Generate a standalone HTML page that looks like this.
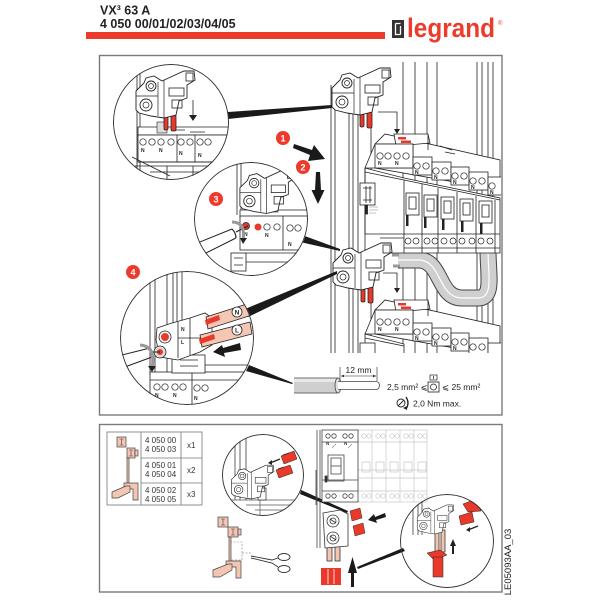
<!DOCTYPE html>
<html><head><meta charset="utf-8">
<style>
html,body{margin:0;padding:0;background:#fff;}
svg{display:block;}
text{font-family:"Liberation Sans",Arial,sans-serif;}
</style></head><body>
<svg width="600" height="600" viewBox="0 0 600 600" xmlns="http://www.w3.org/2000/svg">
<defs>
 <g id="conn">
  <polygon points="2,23 10,15 12,10 20,8 28,13 50,3 60,3 61,12 53,17 53,30 45,33 42,47 30,50 17,48 5,45 2,42" fill="#fff" stroke="#222" stroke-width="0.9"/>
  <circle cx="17" cy="18" r="5" fill="#fff" stroke="#222" stroke-width="0.9"/>
  <circle cx="17" cy="18" r="2.5" fill="none" stroke="#222" stroke-width="0.7"/>
  <circle cx="12" cy="37" r="6" fill="#fff" stroke="#222" stroke-width="0.9"/>
  <circle cx="12" cy="37" r="3" fill="none" stroke="#222" stroke-width="0.7"/>
  <rect x="35" y="20" width="15" height="8" fill="none" stroke="#222" stroke-width="0.8"/>
  <rect x="38" y="32" width="10" height="8" fill="none" stroke="#222" stroke-width="0.8"/>
  <rect x="52" y="5" width="7" height="8" fill="none" stroke="#222" stroke-width="0.8"/>
  <path d="M24,14 V48 M30,12 V50 M2,28 H24" stroke="#222" stroke-width="0.7" fill="none"/>
 </g>
 <g id="pins">
  <rect x="30" y="48" width="4" height="14" rx="1.5" fill="#e8392b"/>
  <rect x="37" y="47" width="5" height="16" rx="1.5" fill="#e8392b"/>
 </g>
 <clipPath id="cr"><rect x="320" y="56" width="181" height="297"/></clipPath>
 <clipPath id="c1"><circle cx="171" cy="122" r="58"/></clipPath>
 <clipPath id="c3"><circle cx="251" cy="219" r="57"/></clipPath>
 <clipPath id="c4"><circle cx="187" cy="338" r="67"/></clipPath>
 <clipPath id="c5"><circle cx="263" cy="475" r="41"/></clipPath>
 <clipPath id="c6"><circle cx="447" cy="541" r="47"/></clipPath>
</defs>

<!-- HEADER -->
<text x="100" y="14.5" font-size="12.5" font-weight="bold" fill="#222">VX³ 63 A</text>
<text x="100" y="28" font-size="12.5" font-weight="bold" fill="#222">4 050 00/01/02/03/04/05</text>
<rect x="86" y="32" width="299" height="7" fill="#ee3a2a"/>
<rect x="392" y="20" width="12" height="18" fill="#333"/>
<path d="M395.5,23.5 H400.5 M395.5,23.5 V34.5 H400.5 M400.5,26 V34.5" stroke="#fff" stroke-width="1.3" fill="none"/>
<text x="407" y="37" font-size="27" font-weight="bold" fill="#ee3a2a" textLength="88" lengthAdjust="spacingAndGlyphs">legrand</text>
<text x="498" y="25" font-size="6" fill="#ee3a2a">®</text>

<!-- FRAMES -->
<rect x="99.5" y="55.5" width="402.5" height="359.5" fill="none" stroke="#7a7a7a" stroke-width="1.4"/>
<rect x="99.5" y="424.5" width="402.5" height="167.5" fill="none" stroke="#7a7a7a" stroke-width="1.4"/>

<!-- MAIN RIGHT DRAWING -->
<g clip-path="url(#cr)" stroke="#222" stroke-width="0.8" fill="none">
 <!-- panel uprights -->
 <path d="M403,62 V353 M415,62 V353 M427,62 V353 M437,62 V353 M477,62 V353 M482,62 V353 M488,62 V353 M493,62 V353"/>
 <!-- rail -->
 <path d="M331,85 V353 M335,85 V353 M349,85 V353 M353,85 V353 M358,85 V353 M371,110 V353"/>
 <!-- cable -->
 <path d="M398,260 L420,260 C442,262 438,298 462,298 L478,298 C494,298 488,275 488,250" stroke="#444" stroke-width="17"/>
 <path d="M398,260 L420,260 C442,262 438,298 462,298 L478,298 C494,298 488,275 488,250" stroke="#cfcfcf" stroke-width="15"/>
 <path d="M398,260 L420,260 C442,262 438,298 462,298 L478,298 C494,298 488,275 488,250" stroke="#fff" stroke-width="1.2"/>
 <path d="M392,255 H399 M393,266 H400" stroke="#999" stroke-width="3"/>

 <!-- UPPER BLOCK -->
 <polygon points="375,144 385,134 500,160 500,190 375,168" fill="#fff"/>
 <polygon points="394,134 428,134 430,143 396,146" fill="#fff"/>
 <polygon points="398,137 406,137 406,139.5 398,139.5" fill="#e8392b" stroke="none"/>
 <polygon points="401,140.5 411,140.5 411,143 401,143" fill="#e8392b" stroke="none"/>
 <path d="M428,134 V150 M440,146 L452,150 M445,152 L455,154"/>
 <polygon points="365,168 375,144 413,144 413,168" fill="#fff"/>
 <rect x="375" y="144" width="38" height="24" fill="#fff"/>
 <rect x="413" y="157" width="19" height="18" fill="#fff"/>
 <rect x="432" y="162" width="19" height="18" fill="#fff"/>
 <rect x="451" y="167" width="18" height="18" fill="#fff"/>
 <rect x="469" y="172" width="19" height="18" fill="#fff"/>
 <rect x="488" y="177" width="19" height="18" fill="#fff"/>
 <g stroke-width="0.7">
  <circle cx="380" cy="156" r="3.2"/><circle cx="388" cy="156" r="3.2"/><circle cx="397" cy="156" r="3.2"/><circle cx="406" cy="156" r="3.2"/>
  <circle cx="417" cy="166" r="3.2"/><circle cx="426" cy="166" r="3.2"/>
  <circle cx="436" cy="171" r="3.2"/><circle cx="445" cy="171" r="3.2"/>
  <circle cx="455" cy="176" r="3.2"/><circle cx="464" cy="176" r="3.2"/>
  <circle cx="473" cy="181" r="3.2"/><circle cx="482" cy="181" r="3.2"/>
  <circle cx="492" cy="186" r="3.2"/>
 </g>
 <g fill="#222" stroke="none" font-size="5" font-weight="bold">
  <text x="378" y="165">N</text><text x="395" y="165">N</text>
  <text x="415" y="174">N</text><text x="434" y="179">N</text><text x="453" y="184">N</text><text x="471" y="189">N</text><text x="490" y="194">N</text>
 </g>
 <!-- body -->
 <polygon points="365,168 404,178 500,198 500,253 365,253" fill="#fff"/>
 <path d="M365,168 V234 M365,172 L404,180 M404,180 V253 M422,184 V253 M438,188 V253 M457,192 V253 M476,196 V253 M495,200 V253 M404,180 L500,200"/>
 <rect x="360" y="183" width="15" height="22" fill="#fff"/>
 <path d="M363,188 H372 M363,200 H372 M366,186 V203 M370,186 V203"/>
 <rect x="365" y="205" width="2.5" height="9" fill="#222"/>
 <path d="M369,207 H378 M369,210 H378 M369,213 H376" stroke="#888" stroke-width="0.6"/>
 <g>
  <rect x="406" y="193" width="13" height="22"/><rect x="409" y="197" width="7" height="12"/>
  <rect x="424" y="195" width="13" height="22"/><rect x="427" y="199" width="7" height="12"/>
  <rect x="441" y="197" width="13" height="22"/><rect x="444" y="201" width="7" height="12"/>
  <rect x="460" y="199" width="13" height="22"/><rect x="463" y="203" width="7" height="12"/>
  <rect x="479" y="201" width="13" height="22"/><rect x="482" y="205" width="7" height="12"/>
 </g>
 <g fill="#222" stroke="none">
  <rect x="406" y="215" width="2.5" height="11"/><rect x="424" y="217" width="2.5" height="11"/>
  <rect x="442" y="219" width="2.5" height="11"/><rect x="461" y="221" width="2.5" height="11"/>
  <rect x="480" y="223" width="2.5" height="11"/>
 </g>
 <path d="M365,234 H500 M404,248 H500 M380,238 H404"/>
 <g stroke-width="0.7">
  <circle cx="408" cy="241" r="3"/><circle cx="416" cy="241" r="3"/><circle cx="427" cy="241" r="3"/><circle cx="435" cy="241" r="3"/>
  <circle cx="444" cy="241" r="3"/><circle cx="453" cy="241" r="3"/><circle cx="462" cy="241" r="3"/><circle cx="472" cy="241" r="3"/>
  <circle cx="481" cy="241" r="3"/><circle cx="490" cy="241" r="3"/>
 </g>

 <!-- LOWER BLOCK -->
 <polygon points="375,310 385,300 500,326 500,356 375,334" fill="#fff"/>
 <polygon points="394,300 428,300 430,309 396,312" fill="#fff"/>
 <polygon points="398,303 406,303 406,305.5 398,305.5" fill="#e8392b" stroke="none"/>
 <polygon points="401,306.5 411,306.5 411,309 401,309" fill="#e8392b" stroke="none"/>
 <path d="M428,300 V316"/>
 <polygon points="365,334 375,310 413,310 413,334" fill="#fff"/>
 <rect x="375" y="310" width="38" height="24" fill="#fff"/>
 <rect x="413" y="323" width="19" height="18" fill="#fff"/>
 <rect x="432" y="328" width="19" height="18" fill="#fff"/>
 <rect x="451" y="333" width="18" height="18" fill="#fff"/>
 <rect x="469" y="338" width="19" height="18" fill="#fff"/>
 <rect x="488" y="343" width="19" height="18" fill="#fff"/>
 <g stroke-width="0.7">
  <circle cx="380" cy="322" r="3.2"/><circle cx="388" cy="322" r="3.2"/><circle cx="397" cy="322" r="3.2"/><circle cx="406" cy="322" r="3.2"/>
  <circle cx="417" cy="332" r="3.2"/><circle cx="426" cy="332" r="3.2"/>
  <circle cx="436" cy="337" r="3.2"/><circle cx="445" cy="337" r="3.2"/>
  <circle cx="455" cy="342" r="3.2"/><circle cx="464" cy="342" r="3.2"/>
  <circle cx="473" cy="347" r="3.2"/><circle cx="482" cy="347" r="3.2"/>
 </g>
 <g fill="#222" stroke="none" font-size="5" font-weight="bold">
  <text x="378" y="331">N</text><text x="395" y="331">N</text>
  <text x="415" y="340">N</text><text x="434" y="345">N</text><text x="453" y="350">N</text>
 </g>
 <polygon points="365,334 404,344 404,360 365,360" fill="#fff"/>
 <path d="M365,338 L404,346"/>
 <rect x="360" y="343" width="15" height="14" fill="#fff"/>

 <!-- thin arrows -->
 <path d="M378,112 H397 V130"/>
 <polygon points="394,129 400,129 397,134" fill="#222" stroke="none"/>
 <path d="M383,273 H397 V289"/>
 <polygon points="394,288 400,288 397,293" fill="#222" stroke="none"/>

 <!-- connectors -->
 <use href="#pins" transform="translate(330,65)"/>
 <use href="#conn" transform="translate(330,65)"/>
 <use href="#pins" transform="translate(331,240)"/>
 <use href="#conn" transform="translate(331,240)"/>
</g>

<!-- connector wedges -->
<polygon points="228,112 332,105 332,108 228,119" fill="#1a1a1a"/>
<polygon points="302,235 340,249 340,251 300,242" fill="#1a1a1a"/>
<polygon points="245,309 337,271 337,274 248,317" fill="#1a1a1a"/>
<polygon points="249,365 293,383 292,384 246,371" fill="#1a1a1a"/>

<!-- big arrows 1,2 -->
<polygon points="294,144 312,150 314,145 325,159 308,161 310,155 293,148" fill="#1a1a1a"/>
<polygon points="316,172 320,172 321,190 324.5,190 318,204 311.5,190 315,190" fill="#1a1a1a"/>

<!-- CIRCLE 1 -->
<g clip-path="url(#c1)" stroke="#222" stroke-width="0.8" fill="none">
 <path d="M137,60 V180 M140,60 V180"/>
 <polygon points="138,127 230,127 230,135 138,135" fill="#fff"/>
 <rect x="157" y="122" width="10" height="11" fill="#ddd" stroke-width="0.6"/>
 <rect x="138" y="135" width="92" height="27" fill="#fff"/>
 <path d="M177,135 V162 M195,135 V162 M175,130 L185,130 M190,132 H205"/>
 <g stroke-width="0.7">
  <circle cx="143" cy="142" r="3.2"/><circle cx="152" cy="142" r="3.2"/><circle cx="161" cy="142" r="3.2"/><circle cx="171" cy="142" r="3.2"/>
  <circle cx="181" cy="142" r="3.2"/><circle cx="190" cy="142" r="3.2"/><circle cx="200" cy="142" r="3.2"/><circle cx="208" cy="142" r="3.2"/>
 </g>
 <g fill="#222" stroke="none" font-size="5" font-weight="bold">
  <text x="141" y="152">N</text><text x="159" y="152">N</text><text x="179" y="155">N</text><text x="198" y="157">N</text>
 </g>
 <path d="M132,157 L170,176 M138,162 H230 M135,166 L230,166 M167,166 V185 M193,166 V185 M150,172 L200,172"/>
 <use href="#pins" transform="translate(134,68)"/>
 <use href="#conn" transform="translate(134,68)"/>
 <path d="M193,100 V116"/>
 <polygon points="189,115 197,115 193,121" fill="#222" stroke="none"/>
 <circle cx="171" cy="122" r="57.5" stroke="#333" stroke-width="1"/>
</g>

<!-- CIRCLE 3 -->
<g clip-path="url(#c3)" stroke="#222" stroke-width="0.8" fill="none">
 <path d="M237,160 V215 M241,160 V215"/>
 <polygon points="240,210 310,210 310,217 240,217" fill="#fff"/>
 <rect x="268" y="198" width="10" height="14" fill="#ddd" stroke-width="0.6"/>
 <rect x="240" y="216" width="70" height="34" fill="#fff"/>
 <path d="M283,216 V250"/>
 <circle cx="246" cy="226" r="3.5" fill="#e8392b"/><circle cx="258" cy="227" r="3.5" fill="#e8392b" stroke="none"/>
 <g stroke-width="0.7"><circle cx="267" cy="227" r="3.2"/><circle cx="277" cy="227" r="3.2"/><circle cx="290" cy="228" r="3.2"/><circle cx="298" cy="228" r="3.2"/></g>
 <g fill="#222" stroke="none" font-size="5" font-weight="bold">
  <text x="244" y="236">N</text><text x="265" y="237">N</text><text x="288" y="246">N</text>
 </g>
 <use href="#conn" transform="translate(238,166) scale(0.95)"/>
 <path d="M190,246 L232,229 M196,258 L236,238" stroke-width="1"/>
 <path d="M232,229 Q236,233 236,238 M236,232 L248,226" stroke-width="1.2"/>
 <path d="M232,222 Q246,222 243,240" stroke="#999" stroke-width="3"/>
 <polygon points="240,238 247,238 243,244" fill="#222" stroke="none"/>
 <rect x="231" y="253" width="15" height="18" fill="#fff"/>
 <path d="M234,258 H243 M234,265 H243 M246,253 H300 M246,262 H300"/>
 <circle cx="251" cy="219" r="56.5" stroke="#333" stroke-width="1"/>
</g>

<!-- CIRCLE 4 -->
<g clip-path="url(#c4)" stroke="#222" stroke-width="0.8" fill="none">
 <path d="M150,270 V375 M155,270 V375 M167,270 V375 M173,270 V375 M177,270 V375 M182,270 V375"/>
 <rect x="150" y="372" width="110" height="40" fill="#fff"/>
 <path d="M192,372 V412 M150,380 H260 M205,365 L260,365 L260,372"/>
 <g stroke-width="0.7"><circle cx="157" cy="387" r="3.2"/><circle cx="165" cy="387" r="3.2"/><circle cx="175" cy="387" r="3.2"/><circle cx="183" cy="387" r="3.2"/><circle cx="197" cy="388" r="3.2"/><circle cx="205" cy="388" r="3.2"/></g>
 <g fill="#222" stroke="none" font-size="5" font-weight="bold"><text x="155" y="397">N</text><text x="173" y="397">N</text><text x="194" y="400">N</text></g>
 <rect x="172" y="355" width="33" height="18" fill="#fff"/>
 <path d="M180,360 H198 M180,366 H198"/>
 <polygon points="157,328 172,323 190,318 205,313 212,318 212,345 200,352 178,360 160,357 156,340" fill="#fff"/>
 <path d="M178,322 V358 M190,318 V355 M178,338 H205"/>
 <circle cx="165" cy="337" r="6" fill="#fff"/><circle cx="165" cy="337" r="4" fill="#e8392b" stroke="none"/>
 <circle cx="160" cy="352" r="6" fill="#ddd"/><circle cx="160" cy="352" r="3" fill="#e8392b" stroke="none"/>
 <text x="181" y="331" font-size="5" font-weight="bold" fill="#222" stroke="none">N</text>
 <text x="181" y="344" font-size="5" font-weight="bold" fill="#222" stroke="none">L</text>
 <!-- wires -->
 <polygon points="206,317 250,303 252,315 208,329" fill="#f4c7b4"/>
 <polygon points="200,335 250,322 252,334 202,347" fill="#f4c7b4"/>
 <polygon points="205,320 219,315 220,320 206,325" fill="#e8392b" stroke="none"/>
 <polygon points="199,339 214,334 215,339 200,344" fill="#e8392b" stroke="none"/>
 <circle cx="237" cy="312" r="5" fill="#fff"/>
 <circle cx="237" cy="330" r="5" fill="#fff"/>
 <text x="237" y="314.5" font-size="6.5" font-weight="bold" fill="#222" stroke="none" text-anchor="middle">N</text>
 <text x="237" y="332.5" font-size="6.5" font-weight="bold" fill="#222" stroke="none" text-anchor="middle">L</text>
 <!-- arrow -->
 <polygon points="240,343 241,350 224,353 225,357 213,352 222,345 223,348" fill="#1a1a1a" stroke="none"/>
 <!-- screwdriver -->
 <path d="M118,356 L150,348 M122,368 L152,357 M150,348 Q154,352 152,357 M152,352 L160,352" stroke-width="1"/>
 <path d="M140,345 Q156,346 152,368" stroke="#999" stroke-width="3"/>
 <polygon points="148,366 156,366 152,372" fill="#222" stroke="none"/>
 <circle cx="187" cy="338" r="66.5" stroke="#333" stroke-width="1"/>
</g>

<!-- badges -->
<g font-size="9" font-weight="bold" fill="#fff" text-anchor="middle">
 <circle cx="283" cy="138" r="7" fill="#ee3a2a"/><text x="283" y="141.5">1</text>
 <circle cx="303" cy="167" r="7" fill="#ee3a2a"/><text x="303" y="170.5">2</text>
 <circle cx="216" cy="199" r="7" fill="#ee3a2a"/><text x="216" y="202.5">3</text>
 <circle cx="133" cy="272" r="7" fill="#ee3a2a"/><text x="133" y="275.5">4</text>
</g>

<!-- stripped wire -->
<rect x="294" y="378" width="44" height="15" fill="#cfcfcf"/>
<rect x="294" y="378" width="44" height="4" fill="#e8e8e8"/>
<path d="M294,378 H338 M294,393 H338" stroke="#444" stroke-width="0.8"/>
<ellipse cx="338" cy="385.5" rx="3" ry="7.5" fill="#e0e0e0" stroke="#444" stroke-width="0.8"/>
<path d="M338,381.5 H376 A3.5,4 0 0 1 376,389.5 H338" fill="#fff" stroke="#444" stroke-width="0.8"/>
<path d="M340,367 V381 M377,367 V381 M341,376 H376" stroke="#222" stroke-width="0.6" fill="none"/>
<polygon points="341,376 344,374.8 344,377.2" fill="#222"/><polygon points="376,376 373,374.8 373,377.2" fill="#222"/>
<text x="358.5" y="373" font-size="8.5" text-anchor="middle" fill="#222">12 mm</text>
<text x="387" y="390" font-size="8.5" fill="#222">2,5 mm² ⩽</text>
<rect x="428" y="382" width="11" height="10" fill="#fff" stroke="#222" stroke-width="0.8"/>
<circle cx="433.5" cy="387" r="3" fill="none" stroke="#222" stroke-width="0.8"/>
<rect x="430" y="375" width="7" height="5" fill="#fff" stroke="#222" stroke-width="0.7"/>
<path d="M433.5,376 V379" stroke="#222" stroke-width="0.8"/>
<text x="442" y="390" font-size="8.5" fill="#222">⩽ 25 mm²</text>
<circle cx="401" cy="403" r="4" fill="none" stroke="#222" stroke-width="0.9"/>
<path d="M398,406 L404,400" stroke="#222" stroke-width="0.9"/>
<path d="M406,397 Q410,403 406,409" stroke="#222" stroke-width="1.3" fill="none"/>
<polygon points="403,408 407,410 407,406" fill="#222"/>
<text x="413" y="406.5" font-size="8.5" fill="#222">2,0 Nm max.</text>

<!-- BOTTOM FRAME -->
<!-- table -->
<g stroke="#777" stroke-width="0.8" fill="none">
 <rect x="107" y="432" width="95" height="73"/>
 <path d="M141,432 V505 M181,432 V505 M141,458 H202 M141,483 H202"/>
</g>
<g font-size="8" fill="#333">
 <text x="145" y="443">4 050 00</text><text x="145" y="452">4 050 03</text>
 <text x="145" y="468">4 050 01</text><text x="145" y="477">4 050 04</text>
 <text x="145" y="493">4 050 02</text><text x="145" y="502">4 050 05</text>
 <text x="187" y="448">x1</text><text x="187" y="473">x2</text><text x="187" y="497">x3</text>
</g>
<g stroke="#444" stroke-width="0.7" fill="#f3c5b3">
 <rect x="117" y="437" width="9" height="10"/>
 <rect x="127" y="448" width="8" height="10"/>
 <rect x="135" y="450" width="3" height="6"/>
 <rect x="127" y="458" width="2" height="26"/>
 <polygon points="124,483 138,483 138,500 133,500 133,489 124,489"/>
 <polygon points="112,492 126,486 130,486 130,492 118,498 112,498"/>
</g>
<path d="M121.5,439 V445 M119.5,439 H123.5 M119.5,445 H123.5 M131,450 V456 M129,450 H133 M129,456 H133" stroke="#444" stroke-width="0.6" fill="none"/>

<!-- pink bracket + scissors -->
<g stroke="#444" stroke-width="0.7" fill="#f3c5b3">
 <rect x="218" y="517" width="10" height="10"/>
 <rect x="228" y="527" width="10" height="10"/>
 <rect x="238" y="529" width="3" height="6"/>
 <rect x="229" y="537" width="2" height="26"/>
 <polygon points="226,561 241,561 241,578 236,578 236,567 226,567"/>
 <polygon points="213,570 228,564 232,564 232,570 220,577 213,577"/>
</g>
<path d="M223,519 V525 M221,519 H225 M221,525 H225 M233,529 V535 M231,529 H235 M231,535 H235" stroke="#444" stroke-width="0.6" fill="none"/>
<path d="M230,542 H242 V560 H230 M242,553 H252" stroke="#777" stroke-width="0.6" stroke-dasharray="2,1.5" fill="none"/>
<g stroke="#333" stroke-width="0.9" fill="none">
 <path d="M251,556 L272,560 L278,558 M251,558 L272,563 L278,567"/>
 <ellipse cx="284" cy="557" rx="6" ry="3.5"/>
 <ellipse cx="284" cy="569" rx="6" ry="3.5"/>
</g>

<!-- small circle bottom-left -->
<g clip-path="url(#c5)" stroke="#222" stroke-width="0.7" fill="none">
 <path d="M235,430 V500 M240,430 V500 M246,430 V500"/>
 <path d="M222,500 H306 M246,505 L306,505 M255,510 L306,510 M260,498 V515" stroke="#555"/>
 <rect x="258" y="488" width="8" height="12" fill="#fff"/>
 <use href="#conn" transform="translate(230,463) scale(0.72)"/>
 <polygon points="281,456 294,451 297,459 284,464" fill="#e8392b" stroke="#222" stroke-width="0.5"/>
 <polygon points="276,470 290,465 293,473 279,478" fill="#e8392b" stroke="#222" stroke-width="0.5"/>
 <path d="M283,455 L289,453 M278,469 L284,467" stroke="#222"/>
 <path d="M280,459 L270,463" stroke-width="1.3"/>
 <polygon points="268,463 272,460 272,465" fill="#222" stroke="none"/>
 <circle cx="263" cy="475" r="40.5" stroke="#333" stroke-width="1"/>
</g>
<polygon points="301,490 348,511 347,513 300,494" fill="#1a1a1a"/>

<!-- panel of breakers -->
<g stroke="#c8c8c8" stroke-width="0.7" fill="none">
 <rect x="358" y="430" width="69" height="72"/>
 <path d="M372,430 V502 M386,430 V502 M400,430 V502 M414,430 V502 M358,442 H427 M358,491 H427 M358,470 H427 M358,478 H427"/>
 <g><circle cx="364" cy="436" r="2.2"/><circle cx="369" cy="436" r="2.2"/><circle cx="378" cy="436" r="2.2"/><circle cx="383" cy="436" r="2.2"/><circle cx="392" cy="436" r="2.2"/><circle cx="397" cy="436" r="2.2"/><circle cx="406" cy="436" r="2.2"/><circle cx="411" cy="436" r="2.2"/><circle cx="420" cy="436" r="2.2"/><circle cx="425" cy="436" r="2.2"/>
 <circle cx="364" cy="496" r="2.2"/><circle cx="369" cy="496" r="2.2"/><circle cx="378" cy="496" r="2.2"/><circle cx="383" cy="496" r="2.2"/><circle cx="392" cy="496" r="2.2"/><circle cx="397" cy="496" r="2.2"/><circle cx="406" cy="496" r="2.2"/><circle cx="411" cy="496" r="2.2"/><circle cx="420" cy="496" r="2.2"/><circle cx="425" cy="496" r="2.2"/></g>
 <path d="M362,462 H370 V472 H362 Z M376,462 H384 V472 H376 Z M390,462 H398 V472 H390 Z M404,462 H412 V472 H404 Z M418,462 H426 V472 H418 Z"/>
</g>
<g stroke="#444" stroke-width="0.8" fill="none">
 <path d="M317,430 V548 M320,430 V548 M316,470 V505"/>
 <rect x="322" y="430" width="36" height="72" fill="#fff"/>
 <path d="M322,442 H358 M322,491 H358 M322,480 H358"/>
 <rect x="328" y="455" width="16" height="26"/>
 <path d="M331,458 H341 V474 H331 Z M331,466 H341"/>
 <rect x="325" y="476" width="2" height="6" fill="#222"/>
 <circle cx="328" cy="436" r="2.2"/><circle cx="334" cy="436" r="2.2"/><circle cx="345" cy="436" r="2.2"/><circle cx="351" cy="436" r="2.2"/>
 <circle cx="328" cy="496" r="2.2"/><circle cx="334" cy="496" r="2.2"/><circle cx="345" cy="496" r="2.2"/><circle cx="351" cy="496" r="2.2"/>
</g>
<text x="326" y="445" font-size="4.5" font-weight="bold" fill="#335">N</text>
<text x="344" y="445" font-size="4.5" font-weight="bold" fill="#335">N</text>
<path d="M332,448 L336,444 M348,448 L352,444" stroke="#888" stroke-width="0.6"/>
<!-- lower connector -->
<g stroke="#333" stroke-width="0.8">
 <rect x="327" y="545" width="5" height="16" fill="#f3c5b3"/>
 <rect x="335" y="545" width="5" height="16" fill="#f3c5b3"/>
 <polygon points="323,513 340,510 348,514 348,546 325,548" fill="#fff"/>
 <circle cx="333" cy="521" r="6" fill="#fff"/><circle cx="333" cy="521" r="3" fill="none"/>
 <circle cx="333" cy="538" r="6" fill="#fff"/><circle cx="333" cy="538" r="3" fill="none"/>
 <path d="M330,519 L336,523 M330,536 L336,540" fill="none"/>
 <polygon points="350,511 360,508 362,518 352,521" fill="#e8392b" stroke-width="0.5"/>
 <polygon points="353,526 363,523 365,533 355,536" fill="#e8392b" stroke-width="0.5"/>
</g>
<polygon points="385,513 386,517 376,520 377,523 368,520 374,514 375,517" fill="#1a1a1a"/>
<rect x="321" y="568" width="20" height="17" fill="#e8392b"/>
<path d="M328,569 V584 M334,569 V584" stroke="#fff" stroke-width="0.8"/>
<polygon points="351,587 354,587 354,573 357,573 352.5,557 348,573 351,573" fill="#1a1a1a"/>
<polygon points="403,548 405,551 358,569 357,567" fill="#1a1a1a"/>

<!-- right circle -->
<g clip-path="url(#c6)" stroke="#222" stroke-width="0.7" fill="none">
 <path d="M413,490 V535 M418,490 V535 M422,490 V535"/>
 <rect x="435" y="530" width="4" height="22" fill="#f3c5b3"/>
 <rect x="441" y="530" width="4" height="22" fill="#f3c5b3"/>
 <use href="#conn" transform="translate(416,503) scale(0.62)"/>
 <polygon points="463,504 476,499 481,511 468,512" fill="#e8392b" stroke-width="0.5"/>
 <polygon points="459,516 472,512 474,522 461,525" fill="#e8392b" stroke-width="0.5"/>
 <path d="M478,526 L468,530" stroke-width="1.3"/>
 <polygon points="466,530 470,527 470,532" fill="#222" stroke="none"/>
 <polygon points="452,554 454,554 454,546 456,546 453,539 450,546 452,546" fill="#222" stroke="none"/>
 <polygon points="427,553 440,550 447,555 434,560" fill="#e8392b" stroke-width="0.5"/>
 <rect x="433" y="557" width="10" height="20" fill="#e8392b" stroke-width="0.5"/>
 <circle cx="447" cy="541" r="46.5" stroke="#333" stroke-width="1"/>
</g>

<!-- side label -->
<text transform="translate(511,562) rotate(-90)" font-size="9.5" text-anchor="middle" fill="#222">LE05093AA_03</text>
</svg>
</body></html>
